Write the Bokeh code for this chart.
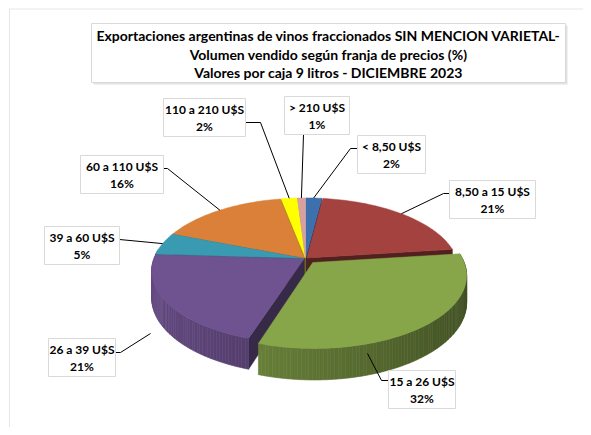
import numpy as np
from bokeh.plotting import figure
from bokeh.models import Range1d, ColumnDataSource, BoxAnnotation
from bokeh.core.properties import value
from bokeh.embed import file_html
from bokeh.resources import INLINE

# ---------------- data ----------------
categories = ["< 8,50 U$S", "8,50 a 15 U$S", "15 a 26 U$S", "26 a 39 U$S",
              "39 a 60 U$S", "60 a 110 U$S", "110 a 210 U$S", "> 210 U$S"]
shares = [2, 21, 32, 21, 5, 16, 2, 1]
pct_labels = ["2%", "21%", "32%", "21%", "5%", "16%", "2%", "1%"]
title_lines = ["Exportaciones argentinas de vinos fraccionados SIN MENCION VARIETAL-",
               "Volumen vendido según franja de precios (%)",
               "Valores por caja 9 litros - DICIEMBRE 2023"]

# ---------------- style / layout ----------------
colors = ["#3E70AD", "#A4423F", "#87A64A", "#6F5290", "#3A9AB2", "#DA8038", "#FFFF00", "#D9A0A0"]
explode = [0.012, 0.012, 0.075, 0.012, 0.012, 0.012, 0.012, 0.012]
FONT = value("Lato")
CX, CY, RA, RB, K, DEPTH = 305, 258, 150, 70, 0.1667, 26

# label box: center x, center y, width ; leader: list of points from box to slice
label_layout = [
    (391, 154, 68, [(357, 148), (350, 148)], "rim"),
    (492, 199, 86, [(449, 193), (443, 193)], "rim"),
    (421.5, 389, 67, [(388, 380), (381, 380), (367, 353)], None),
    (81.5, 357, 67, [(115, 352), (120, 352), (150, 333)], None),
    (81.5, 245, 75, [(119, 239)], "rim"),
    (121.5, 174, 83, [(163, 168), (167, 168)], "rim"),
    (204, 117, 82, [(245, 122), (260, 122)], "rim"),
    (316.5, 115, 65, [(303, 134)], "rim"),
]


def proj(u, v, z):
    w = 1 + K * v
    return CX + RA * u / w, CY - RB * v / w + DEPTH * z / w


def shade(hexcol, f):
    h = hexcol.lstrip("#")
    r, g, b = (int(h[i:i + 2], 16) for i in (0, 2, 4))
    return "#%02x%02x%02x" % tuple(max(0, min(255, int(c * f))) for c in (r, g, b))


p = figure(width=583, height=427, x_range=Range1d(0, 583), y_range=Range1d(427, 0),
           output_backend="svg", toolbar_location=None, min_border=0,
           x_axis_location=None, y_axis_location=None)
p.grid.visible = False
p.outline_line_color = None
p.background_fill_color = "white"

# outer chart frame
p.add_layout(BoxAnnotation(left=9, top=8.5, right=900, bottom=900, fill_alpha=0,
                           line_color="#ADADAD", line_width=1))

# ---------------- 3D pie geometry ----------------
total = float(sum(shares))
cum = np.concatenate([[0], np.cumsum(shares)]) / total
faces = []  # (depth key, xs, ys, color)
tops = []
mids = []
for i, c in enumerate(colors):
    t0, t1 = 2 * np.pi * cum[i], 2 * np.pi * cum[i + 1]
    tm = 0.5 * (t0 + t1)
    ou, ov = explode[i] * np.sin(tm), explode[i] * np.cos(tm)
    mids.append((tm, ou, ov))
    n = max(4, int((t1 - t0) / 0.02))
    ts = np.linspace(t0, t1, n)
    # top face
    px, py = proj(np.concatenate([[ou], ou + np.sin(ts)]), np.concatenate([[ov], ov + np.cos(ts)]), 0)
    tops.append((list(px), list(py), c))
    # outer wall segments
    for a, b in zip(ts[:-1], ts[1:]):
        m = 0.5 * (a + b)
        if np.cos(m) > 0.12:
            continue
        us = ou + np.sin([a, b, b, a])
        vs = ov + np.cos([a, b, b, a])
        x, y = proj(us, vs, np.array([0, 0, 1, 1]))
        f = 0.70 - 0.22 * np.sin(m)
        faces.append((np.mean(vs), list(x), list(y), shade(c, f)))
    # radial faces
    for tt, vis in ((t0, np.sin(t0) < 0), (t1, np.sin(t1) > 0)):
        if not vis:
            continue
        us = np.array([ou, ou + np.sin(tt), ou + np.sin(tt), ou])
        vs = np.array([ov, ov + np.cos(tt), ov + np.cos(tt), ov])
        x, y = proj(us, vs, np.array([0, 0, 1, 1]))
        faces.append((np.mean(vs), list(x), list(y), shade(c, 0.5)))

faces.sort(key=lambda f: -f[0])
wall_src = ColumnDataSource(dict(xs=[f[1] for f in faces], ys=[f[2] for f in faces],
                                 c=[f[3] for f in faces]))
p.patches("xs", "ys", source=wall_src, fill_color="c", line_color="c", line_width=0.6)
top_src = ColumnDataSource(dict(xs=[t[0] for t in tops], ys=[t[1] for t in tops],
                                c=[t[2] for t in tops]))
p.patches("xs", "ys", source=top_src, fill_color="c", line_color="c", line_width=0.5)

# ---------------- leader lines ----------------
lx, ly = [], []
for i, (bx, by, bw, pts, mode) in enumerate(label_layout):
    pts = list(pts)
    if mode == "rim":
        tm, ou, ov = mids[i]
        ax, ay = proj(ou + np.sin(tm), ov + np.cos(tm), 0)
        pts.append((float(ax), float(ay)))
    lx.append([q[0] for q in pts])
    ly.append([q[1] for q in pts])
p.multi_line(lx, ly, line_color="black", line_width=1)

# ---------------- label boxes ----------------
p.rect([l[0] for l in label_layout], [l[1] for l in label_layout],
       width=[l[2] for l in label_layout], height=38,
       fill_color="white", line_color="#D9D9D9", line_width=1)
p.text([l[0] for l in label_layout], [l[1] - 8.5 for l in label_layout], text=categories,
       text_font=FONT, text_font_style="bold", text_font_size="12px",
       text_align="center", text_baseline="middle", text_color="black")
p.text([l[0] for l in label_layout], [l[1] + 8.5 for l in label_layout], text=pct_labels,
       text_font=FONT, text_font_style="bold", text_font_size="12px",
       text_align="center", text_baseline="middle", text_color="black")

# ---------------- title ----------------
p.rect([330], [54.5], width=474, height=59, fill_color="#CFCFCF", fill_alpha=0.6, line_color=None)
p.rect([328], [52.5], width=474, height=59, fill_color="white", line_color="#D9D9D9")
p.text([328, 328, 328], [35, 53.5, 72], text=title_lines,
       text_font=FONT, text_font_style="bold", text_font_size="14px",
       text_align="center", text_baseline="middle", text_color="black")

open("out.html", "w").write(file_html(p, INLINE))
